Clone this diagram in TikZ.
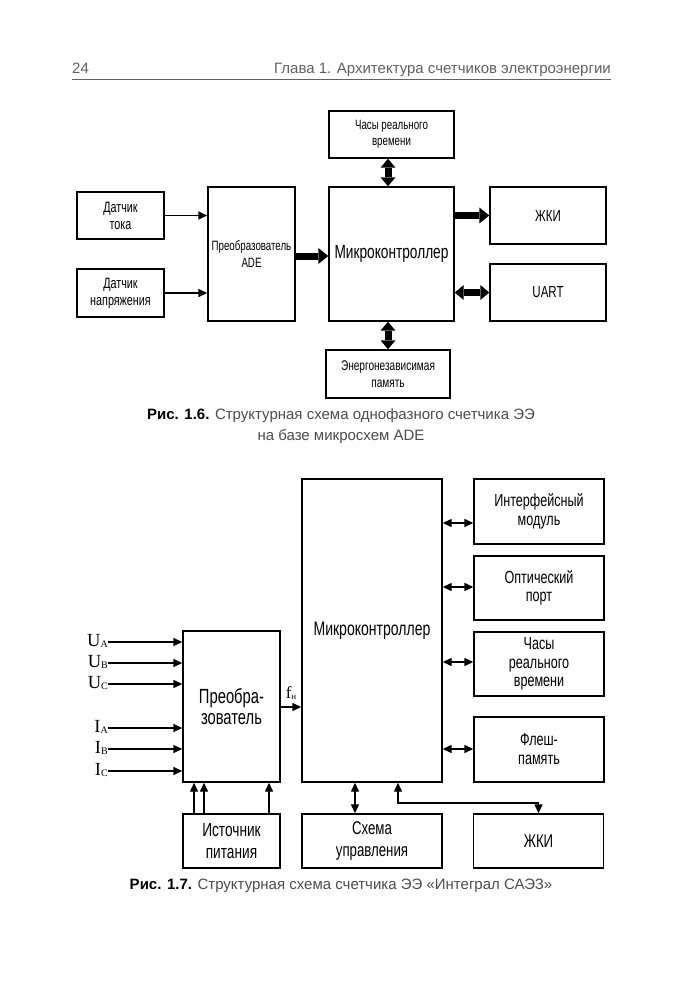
\documentclass[tikz,border=0pt]{standalone}
\usepackage{fontspec}
\setmainfont{Liberation Sans}
\newfontfamily\cond[FakeStretch=0.72]{Liberation Sans}
\newfontfamily\tms{Liberation Serif}
\usetikzlibrary{arrows.meta}
\definecolor{txtgray}{gray}{0.3}
\definecolor{hdgray}{gray}{0.38}
\begin{document}
\begin{tikzpicture}[x=1pt,y=-1pt,
  box/.style={draw, line width=1.4pt, inner sep=1pt, align=center},
  ft/.style 2 args={font=\cond\fontsize{#1}{#2}\selectfont},
  arr/.style={line width=1.4pt, -{Triangle[length=9pt,width=8pt]}},
  darr/.style={line width=1.4pt, {Triangle[length=9pt,width=8pt]}-{Triangle[length=9pt,width=8pt]}},
  fat/.style={line width=7pt, -{Triangle[length=10pt,width=16pt,line width=0pt]}},
  fatd/.style={line width=7pt, {Triangle[length=9pt,width=15pt,line width=0pt]}-{Triangle[length=9pt,width=15pt,line width=0pt]}},
  inlab/.style={anchor=east, inner sep=0pt, font=\tms\fontsize{18.5}{18.5}\selectfont},
  captext/.style={align=center, text=txtgray, font=\fontsize{15}{20.5}\selectfont}
]
\fill[white] (0,0) rectangle (683,1000);
\useasboundingbox (0,0) rectangle (683,1000);

% header
\node[anchor=base west, inner sep=0pt, text=hdgray, font=\fontsize{15}{17}\selectfont] (pg) at (72,74) {24};
\node[anchor=base east, inner sep=0pt, text=hdgray, font=\fontsize{15}{17}\selectfont] (hd) at (611,74) {Глава 1. Архитектура счетчиков электроэнергии};
\draw[line width=1pt, hdgray] (72,79.5) -- (611,79.5);

% ---------- Fig 1.6 ----------
\node[box, ft={15}{17}, minimum width=87pt, minimum height=47pt] (dt) at (120.5,215.5) {Датчик\\тока};
\node[box, ft={15}{17}, minimum width=87pt, minimum height=48pt] (dn) at (120.5,293) {Датчик\\напряжения};
\node[box, ft={13.5}{17}, minimum width=87pt, minimum height=134pt] (ade) at (251.5,254) {Преобразователь\\ADE};
\node[box, ft={13.5}{16.5}, minimum width=125pt, minimum height=47pt] (ch1) at (391.5,134.5) {Часы реального\\времени};
\node[box, ft={19}{20}, minimum width=125pt, minimum height=134pt] (mk1) at (391.5,254) {Микроконтроллер};
\node[box, ft={16}{17}, minimum width=116pt, minimum height=57pt] (zk1) at (548,215.5) {ЖКИ};
\node[box, ft={16}{17}, minimum width=116pt, minimum height=57pt] (ua1) at (548,292.5) {UART};
\node[box, ft={14}{17}, minimum width=124pt, minimum height=48pt] (mem) at (388,374) {Энергонезависимая\\память};

\draw[arr] (dt.east) -- (dt.east -| ade.west);
\draw[arr] (dn.east) -- (dn.east -| ade.west);
\draw[fat] ([yshift=-2pt]ade.east) -- ([yshift=-2pt]mk1.west);
\draw[fat] (mk1.east |- zk1.west) -- (zk1.west);
\draw[fatd] (mk1.east |- ua1.west) -- (ua1.west);
\coordinate (vx) at (388,0);
\draw[fatd] (ch1.south -| vx) -- (mk1.north -| vx);
\draw[fatd] (mk1.south -| vx) -- (mem.north -| vx);

\node[captext] (cap1) at (341,426) {\textbf{\color{black}Рис. 1.6.} Структурная схема однофазного счетчика ЭЭ\\на базе микросхем ADE};

% ---------- Fig 1.7 ----------
\node[box, ft={20.5}{21.7}, minimum width=97pt, minimum height=151pt] (cv) at (231.5,706.5) {Преобра-\\зователь};
\node[box, ft={19.5}{21}, minimum width=140pt, minimum height=303pt] (mk2) at (372,630.5) {Микроконтроллер};
\node[box, ft={17.5}{18.5}, minimum width=130pt, minimum height=65pt] (im) at (539,511.5) {Интерфейсный\\модуль};
\node[box, ft={17.5}{18.5}, minimum width=130pt, minimum height=64pt] (op) at (539,588) {Оптический\\порт};
\node[box, ft={17.5}{18.5}, minimum width=130pt, minimum height=64pt] (ch2) at (539,664) {Часы\\реального\\времени};
\node[box, ft={17.5}{19}, minimum width=130pt, minimum height=65pt] (fl) at (539,749.5) {Флеш-\\память};
\node[box, ft={19}{21.7}, minimum width=97pt, minimum height=54pt] (ist) at (231.5,841) {Источник\\питания};
\node[box, ft={18.4}{21.7}, minimum width=140pt, minimum height=54pt] (sch) at (372,841) {Схема\\управления};
\node[box, ft={18.4}{21}, minimum width=130pt, minimum height=54pt] (zk2) at (538.5,841) {ЖКИ};

% inputs
\node[inlab] (iua) at (108,641) {U\raisebox{-1.5pt}{\fontsize{10}{10}\selectfont A}};
\node[inlab] (iub) at (108,662) {U\raisebox{-1.5pt}{\fontsize{10}{10}\selectfont B}};
\node[inlab] (iuc) at (108,683) {U\raisebox{-1.5pt}{\fontsize{10}{10}\selectfont C}};
\node[inlab] (iia) at (108,727) {I\raisebox{-1.5pt}{\fontsize{10}{10}\selectfont A}};
\node[inlab] (iib) at (108,748) {I\raisebox{-1.5pt}{\fontsize{10}{10}\selectfont B}};
\node[inlab] (iic) at (108,770) {I\raisebox{-1.5pt}{\fontsize{10}{10}\selectfont C}};
\foreach \n/\yy in {iua/642,iub/663,iuc/684,iia/728,iib/749,iic/771}{
  \coordinate (c\n) at (108,\yy);
  \draw[arr] (c\n) -- (c\n -| cv.west);
}

% f_n
\coordinate (fy) at (0,707);
\draw[arr] (cv.east |- fy) -- (mk2.west |- fy);
\node[inner sep=0pt, font=\tms\fontsize{17}{17}\selectfont] (fn) at (291,693) {f\raisebox{-1.5pt}{\fontsize{9}{9}\selectfont н}};

% right side double arrows
\foreach \t/\yy in {im/523,op/587,ch2/662,fl/749}{
  \coordinate (r\t) at (0,\yy);
  \draw[darr] (mk2.east |- r\t) -- (\t.west |- r\t);
}

% bottom connections
\foreach \xx in {194,204,269}{
  \coordinate (p\xx) at (\xx,0);
  \draw[arr] (ist.north -| p\xx) -- (cv.south -| p\xx);
}
\coordinate (sx) at (355,0);
\draw[darr] (mk2.south -| sx) -- (sch.north -| sx);
\coordinate (kx) at (398,803);
\draw[darr] (mk2.south -| kx) |- (zk2.north |- kx) -- (zk2.north);

\node[captext] (cap2) at (341,886) {\textbf{\color{black}Рис. 1.7.} Структурная схема счетчика ЭЭ «Интеграл САЭЗ»};
\end{tikzpicture}
\end{document}
